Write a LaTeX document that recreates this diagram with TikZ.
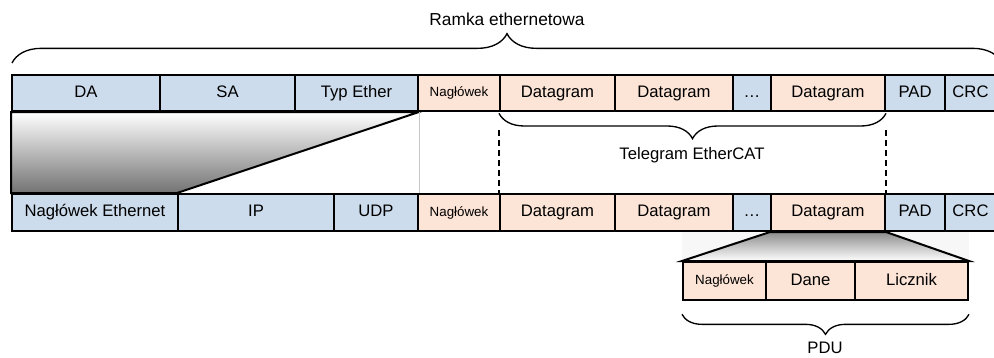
\documentclass[tikz,border=0pt]{standalone}
\usepackage{fontspec}
\setmainfont{Liberation Sans}
\usetikzlibrary{backgrounds,decorations.pathreplacing}

\definecolor{ethblue}{HTML}{CDDCEC}
\definecolor{catpeach}{HTML}{FCE4D6}

\tikzset{
  cell/.style={draw, line width=1.5pt, inner sep=0pt, text height=9pt, text depth=2.5pt,
    font=\fontsize{12.5}{14}\selectfont},
  eth/.style={cell, fill=ethblue},
  cat/.style={cell, fill=catpeach},
  small/.style={font=\fontsize{10}{12}\selectfont, text height=7.5pt, text depth=2pt},
  wd/.style={minimum width=0.75pt*#1},
  ht/.style={minimum height=0.75pt*#1},
  brace/.style={decorate, decoration={brace, amplitude=#1}, line width=1pt},
  label/.style={font=\fontsize{12.5}{14}\selectfont}
}

\begin{document}
\begin{tikzpicture}[x=0.75pt,y=-0.75pt]
      \useasboundingbox (0,0) rectangle (994,357);

      % top row: ethernet frame
      \begin{scope}[every node/.style={ht=36}]
        \node[eth, wd=148] (da)    at (86,93)    {DA};
        \node[eth, wd=135] (sa)    at (227.5,93) {SA};
        \node[eth, wd=123] (typ)   at (356.5,93) {Typ Ether};
        \node[cat, small, wd=82] (nag1) at (459,93) {Nagłówek};
        \node[cat, wd=115] (dg1)   at (557.5,93) {Datagram};
        \node[cat, wd=118] (dg2)   at (674,93)   {Datagram};
        \node[eth, wd=38]  (dots1) at (752,93)   {\dots};
        \node[cat, wd=114] (dg3)   at (828,93)   {Datagram};
        \node[eth, wd=60]  (pad1)  at (915,93)   {PAD};
        \node[eth, wd=51]  (crc1)  at (970.5,93) {CRC};
      \end{scope}

      % bottom row: UDP/IP
      \begin{scope}[every node/.style={ht=37}]
        \node[eth, wd=166] (neth)  at (95,212.5)    {Nagłówek Ethernet};
        \node[eth, wd=156] (ip)    at (256,212.5)   {IP};
        \node[eth, wd=84]  (udp)   at (376,212.5)   {UDP};
        \node[cat, small, wd=82] (nag2) at (459,212.5) {Nagłówek};
        \node[cat, wd=115] (dg4)   at (557.5,212.5) {Datagram};
        \node[cat, wd=118] (dg5)   at (674,212.5)   {Datagram};
        \node[eth, wd=38]  (dots2) at (752,212.5)   {\dots};
        \node[cat, wd=114] (dg6)   at (828,212.5)   {Datagram};
        \node[eth, wd=60]  (pad2)  at (915,212.5)   {PAD};
        \node[eth, wd=51]  (crc2)  at (970.5,212.5) {CRC};
      \end{scope}

      % PDU row
      \begin{scope}[every node/.style={ht=38}]
        \node[cat, small, wd=83] (pnag) at (724.5,281) {Nagłówek};
        \node[cat, wd=89]  (dane) at (810.5,281) {Dane};
        \node[cat, wd=113] (licz) at (911.5,281) {Licznik};
      \end{scope}

      % expansions
      \begin{scope}[on background layer]
        \shadedraw[top color=white, bottom color=black!55, line width=1.5pt]
          (da.south west) -- (typ.south east) -- (ip.north west) -- (neth.north west) -- cycle;
        \draw[gray!45, thin] ([xshift=1.5pt]nag1.south west) -- ([xshift=1.5pt]nag2.north west);
        \fill[gray!6] (pnag.north west |- dg6.south) rectangle (licz.north east);
        \shadedraw[top color=black!45, bottom color=white, line width=1.5pt]
          (dg6.south west) -- (dg6.south east) -- (licz.north east) -- (pnag.north west) -- cycle;
      \end{scope}

      % braces and labels
      \coordinate (rl) at (12,63);
      \coordinate (rr) at (1002,63);
      \draw[brace=22pt] (rl) -- (rr);
      \node[label, font=\fontsize{13}{15}\selectfont] (ramka) at (507,19) {Ramka ethernetowa};

      \draw[brace=19pt, decoration={mirror}] ([yshift=-1pt]dg1.south west) -- ([yshift=-1pt]dg3.south east);
      \node[label] (telegram) at (692,155) {Telegram EtherCAT};
      \draw[line width=1.5pt, dash pattern=on 4.5pt off 3pt] (dg1.south west |- 0,130) -- (dg4.north west);
      \draw[line width=1.5pt, dash pattern=on 4.5pt off 3pt] (dg3.south east |- 0,130) -- (dg6.north east);

      \draw[brace=15pt, decoration={mirror}] ([yshift=-10pt]pnag.south west) -- ([yshift=-10pt]licz.south east);
      \node[label] (pdu) at (825,348) {PDU};

\end{tikzpicture}
\end{document}
